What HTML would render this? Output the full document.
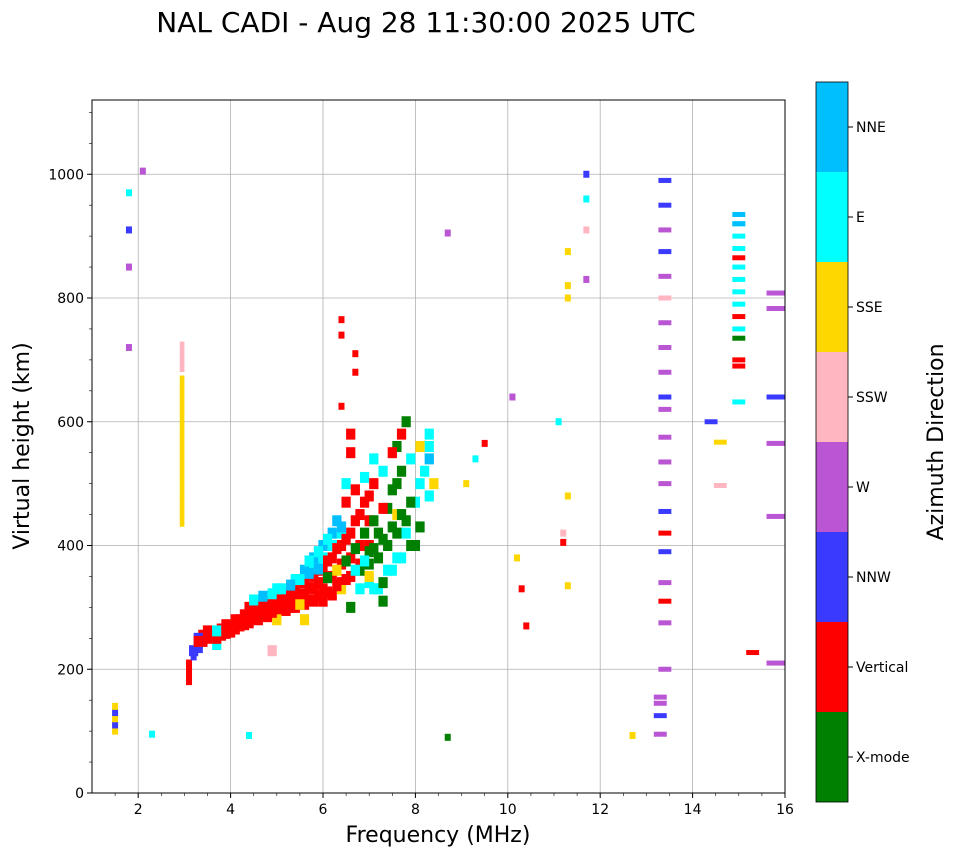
<!DOCTYPE html>
<html><head><meta charset="utf-8"><style>
body{margin:0;background:#fff;font-family:"Liberation Sans","DejaVu Sans",sans-serif}
svg text{font-family:"DejaVu Sans","Liberation Sans",sans-serif}
</style></head><body>
<svg id="chart" width="958" height="857" viewBox="0 0 958 857" xmlns="http://www.w3.org/2000/svg">
<text x="426" y="32" font-size="28" text-anchor="middle">NAL CADI - Aug 28 11:30:00 2025 UTC</text>
<g id="grid"></g>
<g id="marks"></g>
<rect x="92" y="100" width="693" height="693" fill="none" stroke="#000" stroke-width="1"/>
<g id="axes"></g>
<text x="438" y="842" font-size="22" text-anchor="middle">Frequency (MHz)</text>
<text transform="translate(29,446) rotate(-90)" font-size="22" text-anchor="middle">Virtual height (km)</text>
<g id="cbar"></g>
<text transform="translate(943,442) rotate(-90)" font-size="22" text-anchor="middle">Azimuth Direction</text>
</svg>
<script>
const directions=["X-mode","Vertical","NNW","W","SSW","SSE","E","NNE"];
const dirColors=["#008000","#ff0000","#3a3aff","#ba55d3","#ffb6c1","#ffd700","#00ffff","#00bfff"];
const xTicks=[2,4,6,8,10,12,14,16];
const yTicks=[0,200,400,600,800,1000];
const freqs=[3.1,3.1,3.1,3.1,3.2,3.2,3.4,3.4,3.5,3.6,3.8,3.8,4.0,4.0,4.2,4.2,4.4,4.4,4.4,4.6,4.6,4.6,4.8,4.8,4.8,5.0,5.0,5.0,5.2,5.2,5.2,5.4,5.4,5.4,5.6,5.6,5.6,5.8,5.8,5.8,6.0,6.0,6.0,6.2,6.2,6.2,6.4,6.4,6.4,6.6,6.6,6.6,6.8,6.8,6.8,7.0,7.0,7.0,
4.6,5.0,5.4,5.8,6.0,6.2,6.4,6.8,7.0,7.2,7.4,7.6,7.8,8.0,8.2,8.3,8.3,
5.6,5.8,6.0,6.2,6.4,
6.6,6.8,7.0,7.2,7.4,7.6,7.8,7.8,7.6,7.4,7.2,8.0,7.6,7.0,7.3,
5.6,5.0,6.4,7.0,7.6,8.4,
6.4,6.4,6.7,6.7,6.4,6.6,6.6,
2.95,2.95,2.95,2.95,2.95,2.95,2.95,2.95,2.95,2.95,2.95,2.95,2.95,2.95,2.95,2.95,2.95,2.95,2.95,
1.5,1.5,1.5,1.5,1.5,
13.4,13.4,13.4,13.4,13.4,13.4,13.4,13.4,13.4,13.4,13.4,13.4,13.4,13.4,13.4,13.4,13.4,13.4,13.4,13.4,13.4,13.3,13.3,13.3,13.3,
15.0,15.0,15.0,15.0,15.0,15.0,15.0,15.0,15.0,15.0,15.0,15.0,15.0,15.0,15.0,15.0,
15.8,15.8,15.8,15.8,15.8,15.8,15.3,
11.2,11.2,11.3,11.3,11.3,11.7,11.7,11.7,11.7,10.1,10.2,9.1,8.7,8.7,12.7,14.4,14.6,14.6,4.4,2.3,1.8,1.8,1.8,1.8,2.1,9.5,9.3,10.3,10.4,11.1,11.3,11.3,4.9,3.7,3.3,
3.3,3.3,3.5,3.7,3.7,3.9,3.9,4.1,4.1,4.3,4.3,4.5,4.5,4.5,4.7,4.7,4.7,4.9,4.9,4.9,5.1,5.1,5.1,5.3,5.3,5.3,5.5,5.5,5.5,
5.7,5.7,5.7,5.7,5.9,5.9,5.9,5.9,6.1,6.1,6.1,6.1,6.3,6.3,6.3,6.3,6.5,6.5,6.5,6.5,6.5,6.7,6.7,6.7,6.7,6.9,6.9,6.9,6.9,
7.1,7.1,7.1,7.1,7.1,7.3,7.3,7.3,7.3,7.5,7.5,7.5,7.5,7.7,7.7,7.7,7.7,7.9,7.9,7.9,8.1,8.1,8.1,8.3,8.3];
const heights=[180,190,200,210,220,230,245,255,250,255,255,265,260,270,270,280,275,290,300,280,295,305,285,300,310,290,305,320,295,310,325,300,315,330,305,320,340,310,330,350,310,330,360,320,350,380,340,370,400,350,380,420,370,400,450,400,440,480,
310,330,345,365,380,400,420,330,340,330,360,380,420,470,520,560,580,
360,380,400,420,430,
300,360,370,380,400,420,440,600,500,460,420,400,560,390,310,
280,280,330,350,450,500,
765,740,710,680,625,580,550,
440,455,470,485,500,515,530,545,560,575,590,605,620,635,650,665,690,705,720,
100,110,120,130,140,
990,950,910,875,835,800,760,720,680,640,620,575,535,500,455,420,390,340,310,275,200,155,145,125,95,
935,920,900,880,850,865,830,810,790,770,750,735,700,690,632,920,
808,783,640,565,447,210,227,
420,405,875,820,800,1000,960,910,830,640,380,500,905,90,93,600,567,497,93,95,970,910,850,720,1005,565,540,330,270,600,480,335,230,240,250,
235,245,262,250,262,258,272,265,280,272,288,282,298,312,288,302,318,292,308,322,298,312,330,300,318,336,305,322,345,
312,332,355,375,318,340,362,390,325,348,375,410,335,360,395,440,345,375,410,470,500,360,395,440,490,375,420,470,510,
330,395,440,500,540,340,410,460,520,360,430,490,550,380,450,520,580,400,470,540,430,500,560,480,540];
const dirs=[1,1,1,1,2,2,1,1,1,1,1,1,1,1,1,1,1,1,1,1,1,1,1,1,1,1,1,1,1,1,1,1,1,1,1,1,1,1,1,1,1,1,1,1,1,1,1,1,1,1,1,1,1,1,1,1,1,1,
6,6,6,6,6,6,6,6,6,6,6,6,6,6,6,6,6,
7,7,7,7,7,
0,0,0,0,0,0,0,0,0,0,0,0,0,0,0,
5,5,5,5,5,5,
1,1,1,1,1,1,1,
5,5,5,5,5,5,5,5,5,5,5,5,5,5,5,5,4,4,4,
5,2,5,2,5,
2,2,3,2,3,4,3,3,3,2,3,3,3,3,2,1,2,3,1,3,3,3,3,2,3,
7,6,6,6,6,1,6,6,6,1,6,0,1,1,6,7,
3,3,2,3,3,3,1,
4,1,5,5,5,2,6,4,3,3,5,5,3,0,5,2,5,4,6,6,6,2,3,3,3,1,6,1,1,6,5,5,4,6,2,
2,1,1,1,6,1,1,1,1,1,1,1,1,6,1,1,7,1,1,6,1,1,6,1,1,7,5,1,6,
1,1,7,6,1,1,7,6,1,0,1,6,1,5,1,7,1,0,1,1,6,6,0,1,1,6,0,1,6,
6,0,0,1,6,0,0,1,6,6,0,0,1,6,0,0,1,0,0,6,0,6,5,6,7];
const ns="http://www.w3.org/2000/svg";
const X0=92,X1=785,Y0=793,Y1=100,FMIN=1,FMAX=16,HMIN=0,HMAX=1120;
function xS(f){return X0+(f-FMIN)/(FMAX-FMIN)*(X1-X0);}
function yS(h){return Y0-(h-HMIN)/(HMAX-HMIN)*(Y0-Y1);}
function mk(tag,attrs,parent){const e=document.createElementNS(ns,tag);for(const k in attrs)e.setAttribute(k,attrs[k]);parent.appendChild(e);return e;}
const grid=document.getElementById('grid'),axes=document.getElementById('axes'),marks=document.getElementById('marks'),cbar=document.getElementById('cbar');
xTicks.forEach(t=>{
 const g=mk('line',{x1:xS(t),x2:xS(t),y1:Y1,y2:Y0,stroke:'#b0b0b0','stroke-width':0.8},grid);
 
 
 mk('line',{x1:xS(t),x2:xS(t),y1:Y0,y2:Y0+5,stroke:'#000'},axes);
 const tx=mk('text',{x:xS(t),y:Y0+21,'font-size':14,'text-anchor':'middle'},axes);tx.textContent=t;
 
 
});
for(let f=1.5;f<16;f+=0.5){mk('line',{x1:xS(f),x2:xS(f),y1:Y0,y2:Y0+3,stroke:'#000','stroke-width':0.6},axes);}
yTicks.forEach(t=>{
 if(t>0){const g=mk('line',{x1:X0,x2:X1,y1:yS(t),y2:yS(t),stroke:'#b0b0b0','stroke-width':0.8},grid);
 
 }
 mk('line',{x1:X0-5,x2:X0,y1:yS(t),y2:yS(t),stroke:'#000'},axes);
 const tx=mk('text',{x:X0-8,y:yS(t)+5,'font-size':14,'text-anchor':'end'},axes);tx.textContent=t;
 
 
});
for(let h=50;h<1120;h+=50){mk('line',{x1:X0-3,x2:X0,y1:yS(h),y2:yS(h),stroke:'#000','stroke-width':0.6},axes);}
for(let i=0;i<freqs.length;i++){
 const f=freqs[i],h=heights[i];
 const inTrace=(f>=3.2&&f<=8.5&&h<620&&h>220);
 let w=0.13,hh=7;
 if(f>=13){w=(f>=15.6?0.4:0.28);hh=5;}
 else if(inTrace){w=0.2;hh=11;}
 else if(f===2.95){w=0.1;hh=12;}
 const r=mk('rect',{x:xS(f)-(xS(w)-xS(0))/2,y:yS(h)-hh/2,width:xS(w)-xS(0),height:hh,fill:dirColors[dirs[i]]},marks);
 
 
}
const CB0=82,CBH=720,seg=CBH/directions.length;
directions.forEach((d,i)=>{
 const y=CB0+CBH-(i+1)*seg;
 const r=mk('rect',{x:816,y:y,width:32,height:seg,fill:dirColors[i]},cbar);
 
 
 mk('line',{x1:848,x2:853,y1:y+seg/2,y2:y+seg/2,stroke:'#000'},cbar);
 const t=mk('text',{x:856,y:y+seg/2+5,'font-size':14},cbar);t.textContent=d;
 
 
});
mk('rect',{x:816,y:CB0,width:32,height:CBH,fill:'none',stroke:'#000','stroke-width':0.8},cbar);
</script>
</body></html>
